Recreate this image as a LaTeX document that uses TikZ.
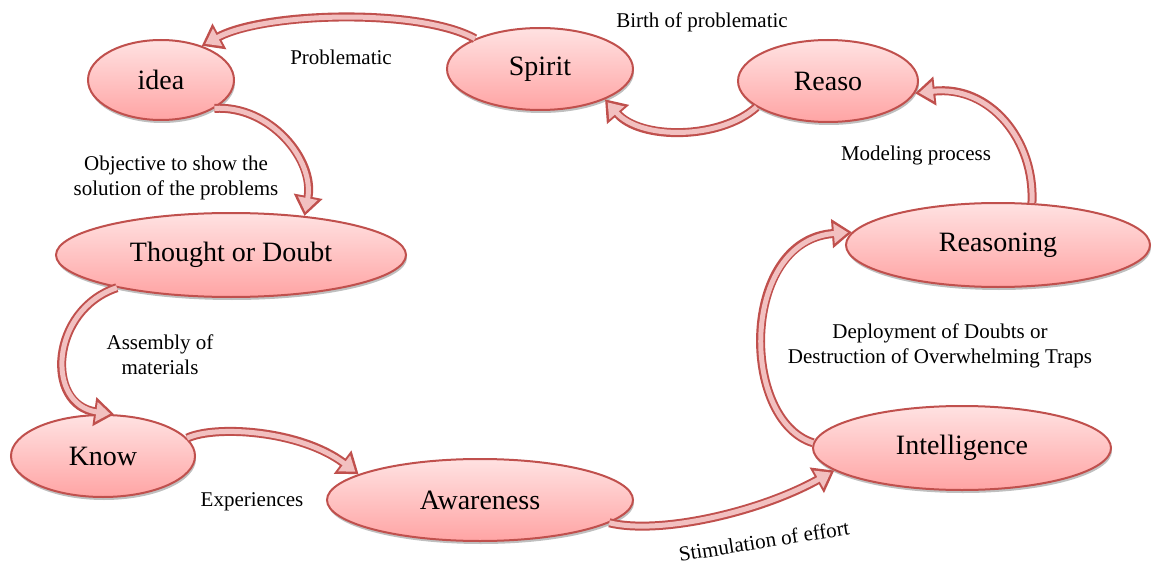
\documentclass[tikz,border=0pt]{standalone}
\usepackage{fontspec}
\setmainfont{Liberation Serif}
\usetikzlibrary{shapes.geometric,arrows.meta,shadows}
\definecolor{edgered}{HTML}{C0504D}
\definecolor{pinktop}{HTML}{FFE2E2}
\definecolor{pinkbot}{HTML}{FFA4A4}
\definecolor{flowpink}{HTML}{F2C0C0}

\begin{document}
\begin{tikzpicture}[x=1pt, y=-1pt,
    concept/.style={ellipse, draw=edgered, line width=2pt, top color=pinktop, bottom color=pinkbot,
        inner sep=0pt, font=\fontsize{28}{30}\selectfont,
        drop shadow={shadow xshift=1pt, shadow yshift=-3pt, opacity=0.25, fill=black}},
    flow/.style={draw=edgered, line width=9pt, -{Triangle[length=20pt, width=28pt]},
        postaction={draw=flowpink, line width=5pt, shorten >=4pt, -{Triangle[length=14pt, width=19pt]}}},
    note/.style={font=\fontsize{21}{25}\selectfont, align=center}]
        \useasboundingbox (0,0) rectangle (1157,567);
        \fill[white] (0,0) rectangle (1157,567);

        % NODES
        % -----------------
        
        \node[concept, minimum width=146pt, minimum height=80pt] (idea) at (161,80) {idea};
        \node[concept, minimum width=186pt, minimum height=82pt] (spirit) at (540,69) {Spirit};
        \node[concept, minimum width=180pt, minimum height=82pt] (reaso) at (828,81) {Reaso};
        \node[concept, minimum width=350pt, minimum height=84pt] (thought) at (231,255) {Thought or Doubt};
        \node[concept, minimum width=304pt, minimum height=84pt] (reasoning) at (998,245) {Reasoning};
        \node[concept, minimum width=184pt, minimum height=82pt] (know) at (103,456) {Know};
        \node[concept, minimum width=306pt, minimum height=82pt] (awareness) at (480,500) {Awareness};
        \node[concept, minimum width=298pt, minimum height=84pt] (intel) at (962,448) {Intelligence};
        
        % LABELS
        % -----------------
        
        \node[note] (problematic) at (341,57) {Problematic};
        \node[note] (birth) at (702,22) {Birth of problematic};
        \node[note] (modeling) at (916,155) {Modeling process};
        \node[note] (objective) at (176,178) {Objective to show the\\solution of the problems};
        \node[note] (assembly) at (160,355) {Assembly of\\materials};
        \node[note] (deployment) at (940,346) {Deployment of Doubts or\\Destruction of Overwhelming Traps};
        \node[note] (experiences) at (252,502) {Experiences};
        \node[note, rotate=9] (stimulation) at (764,541) {Stimulation of effort};
        
        % EDGES
        % -----------------
        \draw[flow] (spirit.155) .. controls (420,8) and (265,12) .. (idea.40);
        \draw[flow] (idea.-28) .. controls (270,105) and (315,160) .. (thought.28);
        \draw[flow] (thought.196) .. controls (50,310) and (45,405) .. (know.75);
        \draw[flow] (know.12) .. controls (215,425) and (300,430) .. (awareness.168);
        \draw[flow] (awareness.-10) .. controls (660,535) and (760,512) .. (intel.190);
        \draw[flow] (intel.178) .. controls (740,420) and (740,240) .. (reasoning.175);
        \draw[flow] (reasoning.51) .. controls (1035,140) and (990,85) .. (reaso.-8);
        \draw[flow] (reaso.200) .. controls (720,140) and (640,140) .. (spirit.-25);
  
\end{tikzpicture}
\end{document}
